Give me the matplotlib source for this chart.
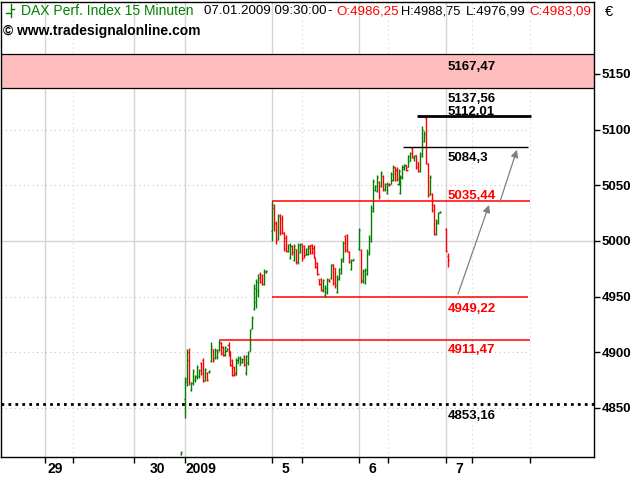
import matplotlib
matplotlib.use("Agg")
import matplotlib.pyplot as plt
from matplotlib.lines import Line2D
from matplotlib import font_manager
import matplotlib.transforms as mtransforms

# ---------------- data ----------------
session_labels = ["29", "30", "2009", "5", "6", "7"]
session_start = [-71, -26, 0, 44, 88, 132]      # session start, in 15-min bar slots
session_first_slot = [0, 24, 0, 0, 0, 0]        # slot of first shown bar in each session
session_nbars = [0, 1, 42, 42, 42, 2]

opens = [
    # 30.12.2008
    4809,
    # 02.01.2009
    4858, 4873, 4900, 4866, 4872, 4875, 4878, 4879, 4890, 4893,
    4875, 4881, 4882, 4892, 4903, 4895, 4896, 4902, 4909, 4905,
    4898, 4901, 4907, 4901, 4893, 4887, 4880, 4890, 4889, 4891,
    4897, 4881, 4890, 4901, 4922, 4939, 4945, 4955, 4970, 4969,
    4961, 4972,
    # 05.01.2009
    5009, 5030, 5016, 5003, 5023, 5020, 5007, 5003, 4991, 4985,
    4995, 4983, 4993, 4981, 4990, 4997, 4995, 4987, 4988, 4995,
    4996, 4994, 4985, 4980, 4966, 4966, 4956, 4951, 4954, 4966,
    4967, 4979, 4976, 4954, 4966, 4971, 4982, 5004, 5005, 4990,
    4975, 4983,
    # 06.01.2009
    4993, 4992, 4964, 4963, 4970, 4988, 5000, 5027, 5046, 5045,
    5053, 5049, 5058, 5046, 5043, 5051, 5051, 5055, 5066, 5064,
    5051, 5043, 5057, 5065, 5068, 5066, 5072, 5083, 5074, 5077,
    5071, 5063, 5076, 5090, 5110, 5069, 5042, 5042, 5032, 5006,
    5016, 5026,
    # 07.01.2009
    5011, 4986.25,
]
highs = [
    4811,
    4878, 4903, 4904, 4873, 4885, 4880, 4889, 4885, 4891, 4895,
    4886, 4882, 4884, 4909, 4903, 4904, 4903, 4911.47, 4909, 4906,
    4906, 4904, 4909, 4901, 4894, 4888, 4895, 4897, 4897, 4895,
    4898, 4898, 4901, 4921, 4933, 4961, 4966, 4970, 4972, 4970,
    4975, 4974,
    5035.44, 5033, 5018, 5024, 5024, 5023, 5008, 5005, 4997, 4998,
    4996, 4997, 4993, 4998, 4998, 4997, 4996, 4994, 4996, 4996,
    4997, 4996, 4985, 4981, 4966, 4967, 4966, 4960, 4967, 4966,
    4979, 4979, 4976, 4969, 4976, 4985, 5000, 5005, 5006, 4991,
    4984, 4984,
    5012, 4993, 4975, 4976, 4993, 5005, 5032, 5056, 5050, 5059,
    5054, 5063, 5059, 5052, 5053, 5052, 5062, 5068, 5066, 5066,
    5065, 5059, 5068, 5069, 5068, 5077, 5080, 5084.3, 5077, 5077,
    5071, 5080, 5103, 5099, 5112.01, 5070, 5059, 5043, 5033, 5020,
    5026, 5027,
    5012, 4988.75,
]
lows = [
    4808,
    4841, 4870, 4871, 4865, 4871, 4873, 4876, 4877, 4880, 4873,
    4874, 4874, 4881, 4891, 4891, 4894, 4894, 4901, 4898, 4897,
    4897, 4901, 4897, 4888, 4879, 4879, 4880, 4890, 4889, 4890,
    4888, 4880, 4889, 4901, 4921, 4938, 4940, 4950, 4962, 4960,
    4960, 4971,
    5000, 5009, 4997, 5001, 5005, 5006, 4991, 4990, 4990, 4984,
    4987, 4982, 4979, 4979, 4989, 4982, 4985, 4987, 4987, 4988,
    4988, 4985, 4976, 4969, 4960, 4955, 4954, 4949.22, 4952, 4963,
    4966, 4960, 4958, 4953, 4965, 4970, 4981, 4990, 4990, 4980,
    4974, 4982,
    4992, 4962, 4962, 4961, 4969, 4987, 4999, 5026, 5045, 5044,
    5038, 5048, 5045, 5045, 5042, 5049, 5051, 5054, 5054, 5054,
    5050, 5042, 5056, 5064, 5063, 5066, 5072, 5074, 5072, 5065,
    5062, 5062, 5075, 5089, 5069, 5039, 5041, 5026, 5005, 5005,
    5015, 5025,
    4990, 4976.99,
]
closes = [
    4810.2,
    4876, 4893, 4873, 4872, 4883, 4879, 4887, 4884, 4881, 4874,
    4885, 4875, 4883, 4906, 4893, 4902, 4900, 4908, 4899, 4898,
    4905, 4903, 4898, 4889, 4880, 4881, 4893, 4895, 4894, 4894,
    4889, 4897, 4899, 4920, 4931, 4958, 4963, 4967, 4963, 4961,
    4973, 4973,
    5032, 5016, 5001, 5022, 5007, 5008, 4993, 4991, 4996, 4995,
    4990, 4995, 4981, 4996, 4997, 4985, 4987, 4993, 4994, 4989,
    4990, 4986, 4977, 4970, 4961, 4956, 4965, 4958, 4965, 4964,
    4978, 4962, 4960, 4967, 4975, 4984, 4998, 4992, 4991, 4981,
    4983, 4984,
    5010, 4965, 4973, 4974, 4990, 5003, 5030, 5054, 5049, 5057,
    5040, 5061, 5047, 5051, 5051, 5050, 5060, 5066, 5055, 5056,
    5063, 5057, 5066, 5068, 5064, 5076, 5079, 5075, 5076, 5066,
    5063, 5078, 5100, 5096, 5070, 5041, 5057, 5028, 5006, 5018,
    5025, 5026,
    4991, 4983.09,
]

# resistance / support levels
zone_low, zone_high = 5137.56, 5167.47
level_prices = [5112.01, 5084.3, 5035.44, 4949.22, 4911.47]
level_starts = [117.4, 110.3, 44, 44, 17.2]
level_ends = [175, 173.5, 174.5, 173.5, 174.5]
level_colors = ["black", "black", "red", "red", "red"]
prev_close_level = 4853.16

# projected path arrows (slot, price)
arrow_from = [(138.1, 4952.4), (159.3, 5035.0)]
arrow_to = [(153.8, 5032.3), (167.9, 5081.8)]

y_ticks = [4850, 4900, 4950, 5000, 5050, 5100, 5150]
day_lines = [-71, -26, 0, 44, 88, 132]
dotted_lines = [-56.7, 59.2, 102.7, 145.2, 174.5]

# ---------------- fonts ----------------
names = {f.name for f in font_manager.fontManager.ttflist}
SANS = "Liberation Sans" if "Liberation Sans" in names else "DejaVu Sans"
NARROW = "Liberation Sans Narrow" if "Liberation Sans Narrow" in names else SANS

GREEN = "#008000"
RED = "#ff0000"
GRID = "#d4d4d4"

W, H = 640, 480
fig = plt.figure(figsize=(6.4, 4.8), dpi=100)
fig.patch.set_facecolor("white")
ax = fig.add_axes([1 / W, 1 - 457 / H, 593 / W, 455 / H])
ax.set_xlim(-93.1, 206.9)
ax.set_ylim(4806, 5214.5)

# grid
for x in day_lines:
    ax.axvline(x, color=GRID, lw=1.0, zorder=0)
for x in dotted_lines:
    ax.axvline(x, color=GRID, lw=0.8, ls=(0, (1, 3)), zorder=0)
for y in y_ticks:
    if y == 5000:
        ax.axhline(y, color=GRID, lw=1.0, zorder=0)
    else:
        ax.hlines(y, -93.1, 174.5, color="#c8c8c8", lw=0.8, ls=(0, (1, 3)), zorder=0)

# resistance zone
ax.axhspan(zone_low, zone_high, facecolor="#ffbcbc", edgecolor="none", zorder=1)
ax.axhline(zone_low, color="black", lw=0.9, zorder=2)
ax.axhline(zone_high, color="black", lw=0.9, zorder=2)

# bars
xs, cols = [], []
for s in range(len(session_start)):
    for k in range(session_nbars[s]):
        xs.append(session_start[s] + session_first_slot[s] + k)
for o, c in zip(opens, closes):
    cols.append(GREEN if c >= o else RED)
ax.vlines(xs, lows, highs, colors=cols, lw=1.0, zorder=3)
tick = 0.55
ax.hlines(opens, [x - tick for x in xs], xs, colors=cols, lw=1.0, zorder=3)
ax.hlines(closes, xs, [x + tick for x in xs], colors=cols, lw=1.0, zorder=3)

# levels
lw_levels = [2.0, 1.0, 1.1, 1.1, 1.1]
for p, a, b, c, lw in zip(level_prices, level_starts, level_ends, level_colors, lw_levels):
    ax.hlines(p, a, b, color=c, lw=lw, zorder=4)
ax.axhline(prev_close_level, color="black", lw=2.0, ls=(0, (1, 1.5)), zorder=4)

# labels of levels
lab_x = 133
label_specs = [
    (zone_high, "5167,47", "black", "top", -4.5),
    (zone_low, "5137,56", "black", "top", -3.8),
    (5112.01, "5112,01", "black", "bottom", -1.4),
    (5084.3, "5084,3", "black", "top", -3.5),
    (5035.44, "5035,44", RED, "bottom", -0.2),
    (4949.22, "4949,22", RED, "top", -3.8),
    (4911.47, "4911,47", RED, "top", -3.0),
    (prev_close_level, "4853,16", "black", "top", -4.0),
]
for p, t, c, va, dy in label_specs:
    ax.annotate(t, (lab_x, p), xytext=(0, dy), textcoords="offset points",
                ha="left", va=va, color=c, fontsize=9.5, family=SANS,
                fontweight="bold", zorder=5)

# arrows
for (x0, y0), (x1, y1) in zip(arrow_from, arrow_to):
    ax.annotate("", xy=(x1, y1), xytext=(x0, y0),
                arrowprops=dict(arrowstyle="-|>", color="#808080", lw=0.9,
                                mutation_scale=11, shrinkA=0, shrinkB=0),
                zorder=5)

# axes styling
for sp in ax.spines.values():
    sp.set_color("black")
    sp.set_linewidth(1.0)
ax.yaxis.tick_right()
ax.set_yticks(y_ticks)
ax.set_yticklabels([str(v) for v in y_ticks])
ax.tick_params(axis="y", direction="out", length=4, width=1, pad=1.5,
               labelsize=9.5, colors="black")
for lbl in ax.get_yticklabels():
    lbl.set_fontfamily(SANS)
    lbl.set_fontweight("bold")
ax.set_xticks(day_lines + dotted_lines)
ax.set_xticklabels([])
ax.tick_params(axis="x", direction="out", length=4, width=1)

# date labels under axis
date_label_x = [-65.6, -14.2, 7.8, 50.8, 94.6, 138.9]
trans = mtransforms.blended_transform_factory(ax.transData, fig.transFigure)
for x, t in zip(date_label_x, session_labels):
    ax.text(x, 1 - 469 / H, t, transform=trans, ha="center", va="center",
            fontsize=10, family=NARROW, fontweight="bold", clip_on=False)

# header
def ftext(px, py, s, **kw):
    fig.text(px / W, 1 - py / H, s, va="center", ha="left", **kw)

ftext(21, 11, "DAX Perf. Index 15 Minuten", color=GREEN, fontsize=10, family=SANS)
ftext(204, 11, "07.01.2009 09:30:00", color="black", fontsize=9.6, family=NARROW)
ftext(327, 11, "-", color="black", fontsize=9.6, family=NARROW)
ftext(336, 11, "O:4986,25", color=RED, fontsize=9.6, family=NARROW)
ftext(401, 11, "H:4988,75", color="black", fontsize=9.3, family=NARROW)
ftext(466, 11, "L:4976,99", color="black", fontsize=9.6, family=NARROW)
ftext(529, 11, "C:4983,09", color=RED, fontsize=9.6, family=NARROW)
ftext(3, 31, "\u00a9 www.tradesignalonline.com", color="black", fontsize=10,
      family=SANS, fontweight="bold")
ftext(605, 12, "\u20ac", color="black", fontsize=10.5, family=SANS)

# small bar icon
def fline(xs_, ys_):
    fig.add_artist(Line2D([x / W for x in xs_], [1 - y / H for y in ys_],
                          color=GREEN, lw=1.0, transform=fig.transFigure))
fline([10.5, 10.5], [4, 17])
fline([6, 10.5], [13, 13])
fline([10.5, 14], [9, 9])

fig.savefig("out.png", dpi=100, facecolor="white")
